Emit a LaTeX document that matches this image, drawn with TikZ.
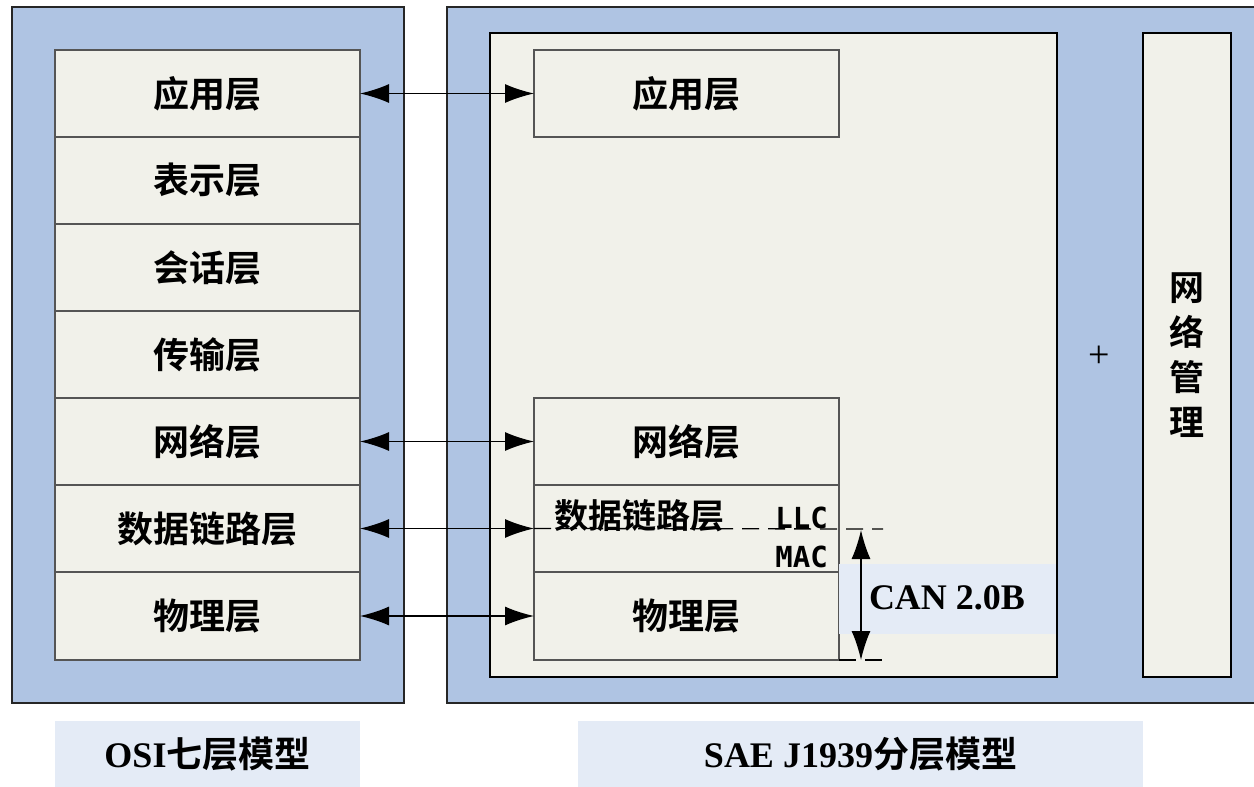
\documentclass[tikz,border=0pt]{standalone}
\usepackage{fontspec}
\setmainfont{Liberation Serif}
\newfontfamily\cjk{Noto Sans CJK SC}[BoldFont={Noto Sans CJK SC Bold}]
\newfontfamily\monob{DejaVu Sans Mono}
\usetikzlibrary{arrows.meta}
\definecolor{outerblue}{RGB}{175,196,227}
\definecolor{paper}{RGB}{241,241,234}
\definecolor{labelbg}{RGB}{228,235,246}
\definecolor{rowline}{RGB}{85,85,85}
\begin{document}
\begin{tikzpicture}[x=1pt,y=-1pt,
  base/.style={inner sep=0pt, outer sep=0pt, anchor=north west},
  outerbox/.style={base, draw=black!85, line width=1.2pt, fill=outerblue},
  panel/.style={base, draw=black, line width=1.1pt, fill=paper},
  layer/.style={base, draw=rowline, line width=1.2pt, fill=paper,
    minimum width=305pt, minimum height=87pt,
    font=\cjk\bfseries\fontsize{36}{40}\selectfont},
  cjktext/.style={inner sep=0pt, font=\cjk\bfseries\fontsize{35}{45}\selectfont, align=center},
  monotext/.style={inner sep=0pt, font=\monob\bfseries\fontsize{29}{32}\selectfont},
  labelbox/.style={base, fill=labelbg, minimum height=66pt},
  labeltext/.style={inner sep=0pt, font=\bfseries\fontsize{36}{40}\selectfont},
  dbl/.style={line width=1.4pt, {Latex[length=29pt,width=19pt]}-{Latex[length=29pt,width=19pt]}},
  dashline/.style={line width=1.3pt, dash pattern=on 17pt off 9pt}
]
\useasboundingbox (0,0) rectangle (1254,787);

% outer frames
\node[outerbox, minimum width=392pt, minimum height=696pt] (osi) at (12,7) {};
\node[outerbox, minimum width=812pt, minimum height=696pt] (sae) at (447,7) {};

% OSI column
\node[layer] (l1) at (55,50) {应用层};
\node[layer] (l2) at (55,137) {表示层};
\node[layer] (l3) at (55,224) {会话层};
\node[layer] (l4) at (55,311) {传输层};
\node[layer] (l5) at (55,398) {网络层};
\node[layer] (l6) at (55,485) {数据链路层};
\node[layer, minimum height=88pt] (l7) at (55,572) {物理层};

% SAE panels
\node[panel, minimum width=567pt, minimum height=644pt] (inner) at (490,33) {};
\node[panel, minimum width=88pt, minimum height=644pt] (mgmt) at (1143,33) {};
\node[cjktext] (mgmttext) at (mgmt.center) {网\\络\\管\\理};
\node[inner sep=0pt, font=\fontsize{38}{38}\selectfont] (plus) at (1099,357) {+};

\node[layer] (r1) at (534,50) {应用层};
\node[layer] (r5) at (534,398) {网络层};
\node[layer] (r6) at (534,485) {};
\node[layer, minimum height=88pt] (r7) at (534,572) {物理层};

% CAN label
\node[base, fill=labelbg, minimum width=217pt, minimum height=70pt] (canbox) at (839,564) {};
\node[inner sep=0pt, font=\bfseries\fontsize{36}{40}\selectfont] (cantext) at (947,598) {CAN 2.0B};

% data link sublayers
\coordinate (dashend) at (883,529);
\coordinate (dashend2) at (883,660);
\draw[dashline] (r6.west) -- (dashend);
\draw[dashline] (r7.south east) -- (dashend2);
\node[cjktext, font=\cjk\bfseries\fontsize{34}{40}\selectfont] (dltext) at (639,516) {数据链路层};
\node[monotext, anchor=east] (llc) at (828,518) {LLC};
\node[monotext, anchor=east] (mac) at (828,557) {MAC};

% arrows
\draw[dbl] (l1.east) -- (r1.west);
\draw[dbl] (l5.east) -- (r5.west);
\draw[dbl] (l6.east) -- (r6.west);
\draw[dbl] (l7.east) -- (r7.west);
\coordinate (cantop) at (861,530);
\coordinate (canbot) at (861,660);
\draw[dbl] (cantop) -- (canbot);

% bottom labels
\node[labelbox, minimum width=305pt] (osilabel) at (55,721) {};
\node[labeltext] at (osilabel.center) {OSI{\cjk\bfseries 七层模型}};
\node[labelbox, minimum width=565pt] (saelabel) at (578,721) {};
\node[labeltext] at (saelabel.center) {SAE J1939{\cjk\bfseries 分层模型}};
\end{tikzpicture}
\end{document}
